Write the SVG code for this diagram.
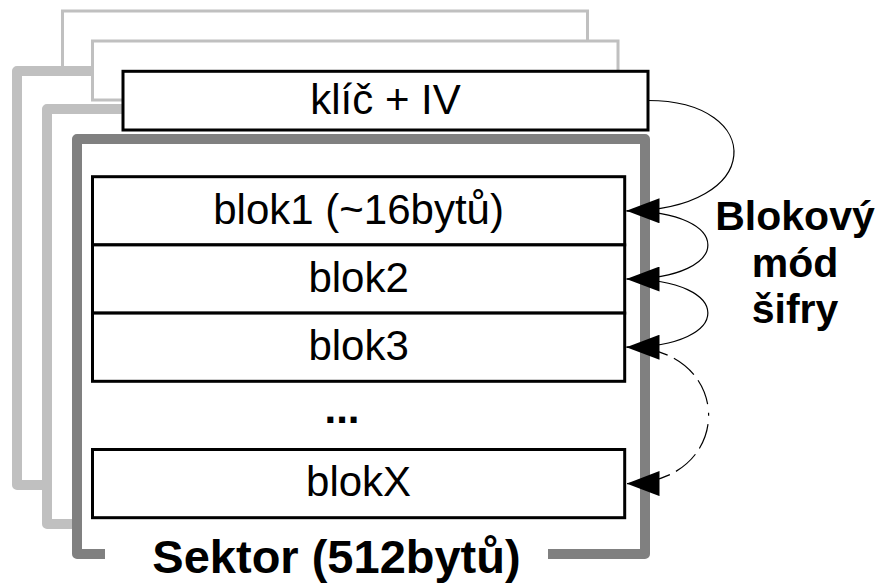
<svg xmlns="http://www.w3.org/2000/svg" width="882" height="585" viewBox="0 0 882 585">
  <style>
    .keyback { fill: #ffffff; stroke: #c0c0c0; stroke-width: 3; }
    .frameback { fill: none; stroke: #c0c0c0; stroke-width: 10; stroke-linejoin: round; }
    .framefront { fill: none; stroke: #808080; stroke-width: 10; stroke-linejoin: round; }
    .box { fill: #ffffff; stroke: #000000; stroke-width: 3; }
    .lbl { font-family: "Liberation Sans", Arial, sans-serif; font-size: 42px; fill: #000000; text-anchor: middle; }
    .bold { font-family: "Liberation Sans", Arial, sans-serif; font-weight: bold; fill: #000000; text-anchor: middle; }
    .link { fill: none; stroke: #000000; stroke-width: 1.2; }
  </style>
  <defs>
    <marker id="arrow" viewBox="0 0 33 25" refX="33" refY="12.5" markerWidth="33" markerHeight="25" markerUnits="userSpaceOnUse" orient="auto">
      <path d="M0,0 L33,12.5 L0,25 Z" fill="#000000"/>
    </marker>
  </defs>

  <rect width="882" height="585" fill="#ffffff"/>

  <!-- rear sheet -->
  <g id="sheet-rear">
    <rect class="keyback" x="62.5" y="11" width="525" height="59"/>
    <path class="frameback" d="M93,71 H17 V485 H47"/>
  </g>

  <!-- middle sheet -->
  <g id="sheet-middle">
    <rect class="keyback" x="92.5" y="41" width="525.5" height="59"/>
    <path class="frameback" d="M123,109 H47 V524 H77"/>
  </g>

  <!-- front sheet: key + IV header -->
  <g id="key-iv">
    <rect class="box" x="123" y="71.3" width="525" height="58.7"/>
    <text class="lbl" x="385.5" y="113.5">klíč + IV</text>
  </g>

  <!-- front sheet: sector frame, open at the bottom for its caption -->
  <g id="sector">
    <path class="framefront" d="M105,554 H77 V139 H645 V554 H548"/>
    <text class="bold" x="336.5" y="573" font-size="47">Sektor (512bytů)</text>
  </g>

  <g id="blok1">
    <rect class="box" x="92.5" y="176.7" width="532.2" height="68.2"/>
    <text class="lbl" x="358.6" y="223.5">blok1 (~16bytů)</text>
  </g>
  <g id="blok2">
    <rect class="box" x="92.5" y="244.9" width="532.2" height="68.2"/>
    <text class="lbl" x="358.6" y="291.5">blok2</text>
  </g>
  <g id="blok3">
    <rect class="box" x="92.5" y="313.1" width="532.2" height="68.2"/>
    <text class="lbl" x="358.6" y="359.5">blok3</text>
  </g>
  <g id="ellipsis">
    <text class="bold" x="342" y="423" font-size="42">...</text>
  </g>
  <g id="blokX">
    <rect class="box" x="92.5" y="449.5" width="532.2" height="68.2"/>
    <text class="lbl" x="358.6" y="495.5">blokX</text>
  </g>

  <!-- chaining connectors of the block cipher mode -->
  <g id="connectors">
    <path class="link" d="M648,100.5 C766,100.5 766,210.8 626.5,210.8" marker-end="url(#arrow)"/>
    <path class="link" d="M626.5,210.8 C735,210.8 735,279 626.5,279" marker-end="url(#arrow)"/>
    <path class="link" d="M626.5,279 C735,279 735,347.2 626.5,347.2" marker-end="url(#arrow)"/>
    <path class="link" d="M626.5,347.2 C736,347.2 736,483.6 626.5,483.6" stroke-dasharray="42 7 26 7 26 8.5 3 8.5 26 7 26 7 44" marker-end="url(#arrow)"/>
  </g>

  <g id="mode-label">
    <text class="bold" font-size="41" x="795" y="230">Blokový</text>
    <text class="bold" font-size="41" x="795" y="277">mód</text>
    <text class="bold" font-size="41" x="795" y="323">šifry</text>
  </g>
</svg>
